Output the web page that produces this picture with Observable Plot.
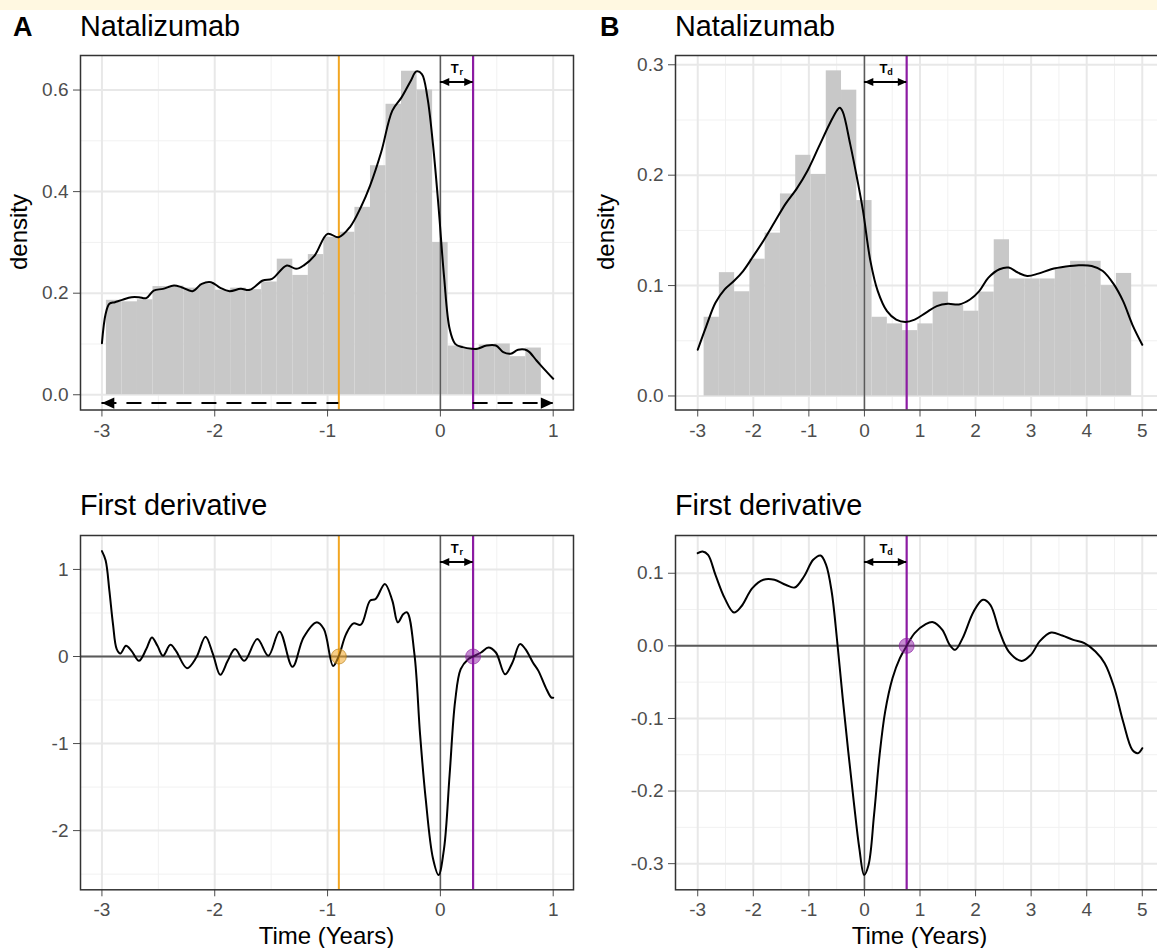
<!DOCTYPE html>
<html><head><meta charset="utf-8">
<script src="https://cdn.jsdelivr.net/npm/d3@7"></script>
<script src="https://cdn.jsdelivr.net/npm/@observablehq/plot@0.6"></script>
<style>
html,body{margin:0;padding:0;background:#fff;overflow:hidden;}
#root{position:relative;width:1157px;height:948px;overflow:hidden;font-family:"Liberation Sans",Arial,Helvetica,sans-serif;background:#fff;}
.pl{position:absolute;}
.pl svg{max-width:none !important;}
.band{position:absolute;left:0;top:0;width:1157px;height:10px;background:#fff8e1;z-index:5;}
</style></head>
<body><div id="root"></div>
<script>
// ---------------- DATA ----------------
// axis ticks
const timeTicksA = [-3, -2, -1, 0, 1];
const timeMinorA = [-2.5, -1.5, -0.5, 0.5];
const timeTicksB = [-3, -2, -1, 0, 1, 2, 3, 4, 5];
const timeMinorB = [-2.5, -1.5, -0.5, 0.5, 1.5, 2.5, 3.5, 4.5];
const densTicksA = [0, 0.2, 0.4, 0.6];
const densMinorA = [0.1, 0.3, 0.5];
const densTicksB = [0, 0.1, 0.2, 0.3];
const densMinorB = [0.05, 0.15, 0.25];
const derivTicksA = [-2, -1, 0, 1];
const derivMinorA = [-2.5, -1.5, -0.5, 0.5];
const derivTicksB = [-0.3, -0.2, -0.1, 0, 0.1];
const derivMinorB = [-0.25, -0.15, -0.05, 0.05, 0.15];

// histogram A (bin edges, densities)
const histEdgesA = [-2.9606, -2.8229, -2.6852, -2.5475, -2.4098, -2.2721, -2.1344, -1.9967, -1.859, -1.7213,
  -1.5836, -1.4459, -1.3082, -1.1705, -1.0328, -0.8951, -0.7574, -0.6197, -0.482, -0.3443,
  -0.2066, -0.0689, 0.0689, 0.2066, 0.3443, 0.482, 0.6197, 0.7574, 0.8951];
const histDensityA = [0.186, 0.183, 0.187, 0.213, 0.214, 0.21, 0.218, 0.206, 0.21, 0.207,
  0.222, 0.267, 0.235, 0.276, 0.31, 0.32, 0.369, 0.451, 0.572, 0.637,
  0.60, 0.30, 0.096, 0.09, 0.098, 0.1, 0.075, 0.092];

// histogram B
const histEdgesB = [-2.8854, -2.6106, -2.3358, -2.061, -1.7862, -1.5114, -1.2366, -0.9618, -0.687, -0.4122,
  -0.1374, 0.1374, 0.4122, 0.687, 0.9618, 1.2366, 1.5114, 1.7862, 2.061, 2.3358,
  2.6106, 2.8854, 3.1602, 3.435, 3.7098, 3.9846, 4.2594, 4.5342, 4.809];
const histDensityB = [0.0713, 0.1117, 0.0944, 0.1239, 0.1475, 0.183, 0.218, 0.2007, 0.2945, 0.277,
  0.177, 0.0713, 0.0653, 0.0592, 0.0653, 0.0941, 0.082, 0.0768, 0.0941, 0.1415,
  0.106, 0.106, 0.106, 0.116, 0.122, 0.122, 0.100, 0.111];

// density curve A
const densTimeA = [-3.000, -2.967, -2.934, -2.885, -2.820, -2.738, -2.672, -2.607, -2.541, -2.459,
  -2.361, -2.295, -2.197, -2.115, -2.033, -1.951, -1.869, -1.770, -1.689, -1.574,
  -1.492, -1.361, -1.279, -1.213, -1.115, -1.000, -0.902, -0.803, -0.705, -0.623,
  -0.525, -0.426, -0.344, -0.262, -0.213, -0.164, -0.115, -0.066, -0.016, 0.033,
  0.082, 0.131, 0.197, 0.279, 0.328, 0.410, 0.492, 0.557, 0.623, 0.689,
  0.770, 0.852, 0.918, 1.000];
const densValueA = [0.1016, 0.1593, 0.179, 0.1823, 0.1869, 0.1921, 0.1921, 0.1902, 0.2052, 0.2085,
  0.2151, 0.2118, 0.2039, 0.2184, 0.2216, 0.2105, 0.2039, 0.2085, 0.2066, 0.2249,
  0.2282, 0.2544, 0.2479, 0.2544, 0.2741, 0.3167, 0.3102, 0.3298, 0.3692, 0.4118,
  0.4774, 0.5594, 0.5856, 0.6184, 0.6367, 0.6315, 0.5856, 0.4938, 0.3692, 0.2315,
  0.1298, 0.1003, 0.0938, 0.0905, 0.0905, 0.0971, 0.0971, 0.0839, 0.0807, 0.0885,
  0.0872, 0.0675, 0.0511, 0.0315];

// first derivative A
const derivTimeA = [-3.000, -2.967, -2.934, -2.902, -2.869, -2.836, -2.787, -2.738, -2.672, -2.607,
  -2.557, -2.508, -2.459, -2.393, -2.344, -2.246, -2.164, -2.082, -2.016, -1.951,
  -1.885, -1.820, -1.738, -1.623, -1.525, -1.426, -1.311, -1.213, -1.098, -1.033,
  -0.951, -0.902, -0.836, -0.770, -0.705, -0.623, -0.574, -0.492, -0.426, -0.377,
  -0.328, -0.295, -0.230, -0.180, -0.131, -0.066, -0.016, 0.033, 0.082, 0.131,
  0.180, 0.246, 0.289, 0.361, 0.426, 0.492, 0.574, 0.639, 0.705, 0.754,
  0.820, 0.869, 0.934, 0.984, 1.000];
const derivValueA = [1.210, 1.103, 0.757, 0.373, 0.085, 0.035, 0.123, 0.065, -0.050, 0.085,
  0.219, 0.123, 0.008, 0.134, 0.065, -0.134, -0.012, 0.227, 0.027, -0.211,
  -0.050, 0.085, -0.050, 0.200, 0.008, 0.288, -0.119, 0.219, 0.392, 0.315,
  -0.108, 0.000, 0.257, 0.380, 0.365, 0.642, 0.661, 0.834, 0.642, 0.392,
  0.488, 0.507, 0.027, -0.895, -1.625, -2.317, -2.509, -2.201, -1.356, -0.511,
  -0.146, -0.031, 0.000, 0.046, 0.104, 0.046, -0.204, -0.069, 0.142, 0.085,
  -0.069, -0.165, -0.357, -0.473, -0.473];

// density curve B
const densTimeB = [-3.000, -2.847, -2.681, -2.515, -2.349, -2.183, -2.017, -1.818, -1.619, -1.420,
  -1.221, -1.022, -0.822, -0.623, -0.490, -0.444, -0.391, -0.258, -0.125, -0.026,
  0.107, 0.240, 0.406, 0.572, 0.738, 0.904, 1.103, 1.302, 1.501, 1.700,
  1.900, 2.066, 2.232, 2.431, 2.597, 2.763, 2.929, 3.128, 3.360, 3.626,
  3.858, 4.090, 4.289, 4.489, 4.655, 4.821, 5.000];
const densValueB = [0.0419, 0.0631, 0.0844, 0.0965, 0.1041, 0.1132, 0.1254, 0.1406, 0.1573, 0.1740,
  0.1876, 0.2043, 0.2256, 0.2468, 0.2590, 0.2610, 0.2575, 0.2286, 0.1952, 0.1679,
  0.1224, 0.0950, 0.0768, 0.0692, 0.0671, 0.0692, 0.0753, 0.0814, 0.0835, 0.0829,
  0.0874, 0.0950, 0.1072, 0.1148, 0.1163, 0.1117, 0.1087, 0.1108, 0.1148, 0.1172,
  0.1184, 0.1178, 0.1132, 0.1011, 0.0859, 0.0647, 0.0464];

// first derivative B
const derivTimeB = [-3.000, -2.914, -2.814, -2.681, -2.515, -2.349, -2.217, -2.017, -1.818, -1.619,
  -1.420, -1.254, -1.088, -0.922, -0.789, -0.690, -0.590, -0.490, -0.391, -0.291,
  -0.192, -0.092, -0.006, 0.074, 0.173, 0.273, 0.373, 0.505, 0.638, 0.760,
  0.904, 1.103, 1.236, 1.402, 1.534, 1.634, 1.767, 1.966, 2.132, 2.265,
  2.431, 2.597, 2.829, 2.995, 3.161, 3.360, 3.559, 3.758, 3.958, 4.157,
  4.323, 4.489, 4.655, 4.821, 4.920, 5.000];
const derivValueB = [0.1277, 0.1300, 0.1254, 0.0978, 0.0657, 0.0459, 0.0542, 0.0795, 0.0910, 0.0910,
  0.0841, 0.0804, 0.0955, 0.1185, 0.1245, 0.1116, 0.0749, 0.0060, -0.0721, -0.1456,
  -0.2145, -0.2788, -0.3156, -0.3018, -0.2329, -0.1502, -0.0905, -0.0446, -0.0170, 0.0000,
  0.0175, 0.0299, 0.0326, 0.0220, 0.0014, -0.0055, 0.0106, 0.0473, 0.0634, 0.0565,
  0.0198, -0.0078, -0.0207, -0.0124, 0.0069, 0.0184, 0.0142, 0.0083, 0.0037, -0.0078,
  -0.0239, -0.0560, -0.1043, -0.1433, -0.1479, -0.1410];

// key time points
const onsetA = -0.9;       // orange line (panel A)
const recoveryA = 0.29;    // purple line, Tr (panel A)
const recoveryB = 0.76;    // purple line, Td (panel B)
const windowA = [-3, 1];   // dashed arrow extents
const dashedArrowY = -0.0163;

// ---------------- STYLE / LAYOUT ----------------
const FONT = '"Liberation Sans", Arial, Helvetica, sans-serif';
const ORANGE = "#f2a623", PURPLE = "#8c1ba3";
const root = document.getElementById("root");

const arrowHead = {
  draw(context, size) {
    const l = Math.sqrt(size);
    context.moveTo(0, 0);
    context.lineTo(-l, -0.45 * l);
    context.lineTo(-l, 0.45 * l);
    context.closePath();
  }
};

const toRows = (xs, ys) => xs.map((t, i) => ({t, v: ys[i]}));
const toBins = (edges, hs) => hs.map((h, i) => ({x0: edges[i], x1: edges[i + 1], h}));

function yFromTop(domain, plotH, px) {
  return domain[1] - px * (domain[1] - domain[0]) / plotH;
}

function panel(o) {
  const plotH = o.height - o.mT - o.mB;
  const svg = Plot.plot({
    width: o.width, height: o.height,
    marginLeft: o.mL, marginRight: o.mR, marginTop: o.mT, marginBottom: o.mB,
    style: {fontFamily: FONT, fontSize: "19px", color: "#4d4d4d", background: "transparent", overflow: "visible", maxWidth: "none"},
    x: {domain: o.xDomain, ticks: o.xTicks, tickSize: 7, tickPadding: 6, tickFormat: d => String(d), label: null},
    y: {domain: o.yDomain, ticks: o.yTicks, tickSize: 7, tickPadding: 5, tickFormat: o.yFmt, label: null},
    marks: [
      Plot.ruleX(o.xMinor, {stroke: "#f1f1f1", strokeWidth: 1}),
      Plot.ruleY(o.yMinor, {stroke: "#f1f1f1", strokeWidth: 1}),
      Plot.ruleX(o.xTicks, {stroke: "#e8e8e8", strokeWidth: 2}),
      Plot.ruleY(o.yTicks, {stroke: "#e8e8e8", strokeWidth: 2}),
      ...o.marks(plotH),
      Plot.frame({stroke: "#333", strokeWidth: 1.5})
    ]
  });
  svg.style.maxWidth = "none";
  svg.setAttribute("width", o.width);
  svg.setAttribute("height", o.height);
  svg.style.width = o.width + "px";
  svg.style.height = o.height + "px";
  const wrap = document.createElement("div");
  wrap.className = "pl";
  wrap.style.left = o.left + "px";
  wrap.style.top = o.top + "px";
  wrap.style.width = o.width + "px";
  wrap.style.height = o.height + "px";
  wrap.appendChild(svg);
  root.appendChild(wrap);
}

function deltaArrow(x0, x1, yDomain, plotH, sub) {
  const yA = yFromTop(yDomain, plotH, 26.5);
  const yT = yFromTop(yDomain, plotH, 13);
  const mid = (x0 + x1) / 2;
  return [
    Plot.ruleY([yA], {x1: x0, x2: x1, stroke: "black", strokeWidth: 2}),
    Plot.dot([{t: x0, v: yA}], {x: "t", y: "v", symbol: arrowHead, r: 5, rotate: 180, fill: "black", stroke: "none"}),
    Plot.dot([{t: x1, v: yA}], {x: "t", y: "v", symbol: arrowHead, r: 5, rotate: 0, fill: "black", stroke: "none"}),
    Plot.text([{t: mid, v: yT}], {x: "t", y: "v", text: () => "T", fontSize: 13, fontWeight: "bold", fill: "black", dx: -2}),
    Plot.text([{t: mid, v: yT}], {x: "t", y: "v", text: () => sub, fontSize: 9, fontWeight: "bold", fill: "black", dx: 4.5, dy: 3.5})
  ];
}

const TOP = {top: 0, height: 440, mT: 55, mB: 30.5};
const BOT = {top: 480, height: 440, mT: 55, mB: 30.7};
const PA = {left: 0, width: 580, mL: 80, mR: 7, xDomain: [-3.19, 1.18], xTicks: timeTicksA, xMinor: timeMinorA};
const PB = {left: 580, width: 590, mL: 95, mR: 6, xDomain: [-3.4, 5.4], xTicks: timeTicksB, xMinor: timeMinorB};

// ---- Panel A, density ----
const yDomA1 = [-0.03, 0.668];
panel({...TOP, ...PA, yDomain: yDomA1, yTicks: densTicksA, yMinor: densMinorA, yFmt: d => d.toFixed(1),
  marks: (plotH) => [
    Plot.rect(toBins(histEdgesA, histDensityA), {x1: "x0", x2: "x1", y1: 0, y2: "h", fill: "#c8c8c8", inset: 0}),
    Plot.ruleX([0], {stroke: "#5a5a5a", strokeWidth: 1.5}),
    Plot.ruleX([onsetA], {stroke: ORANGE, strokeWidth: 2}),
    Plot.ruleX([recoveryA], {stroke: PURPLE, strokeWidth: 2.2}),
    Plot.line(toRows(densTimeA, densValueA), {x: "t", y: "v", stroke: "black", strokeWidth: 2, curve: "catmull-rom"}),
    Plot.ruleY([dashedArrowY], {x1: windowA[0], x2: onsetA, stroke: "black", strokeWidth: 2, strokeDasharray: "15,10"}),
    Plot.ruleY([dashedArrowY], {x1: recoveryA, x2: windowA[1], stroke: "black", strokeWidth: 2, strokeDasharray: "15,10"}),
    Plot.dot([{t: windowA[0], v: dashedArrowY}], {x: "t", y: "v", symbol: arrowHead, r: 7, rotate: 180, fill: "black", stroke: "none"}),
    Plot.dot([{t: windowA[1], v: dashedArrowY}], {x: "t", y: "v", symbol: arrowHead, r: 7, rotate: 0, fill: "black", stroke: "none"}),
    ...deltaArrow(0, recoveryA, yDomA1, plotH, "r")
  ]});

// ---- Panel B, density ----
const yDomB1 = [-0.0127, 0.3084];
panel({...TOP, ...PB, yDomain: yDomB1, yTicks: densTicksB, yMinor: densMinorB, yFmt: d => d.toFixed(1),
  marks: (plotH) => [
    Plot.rect(toBins(histEdgesB, histDensityB), {x1: "x0", x2: "x1", y1: 0, y2: "h", fill: "#c8c8c8", inset: 0}),
    Plot.ruleX([0], {stroke: "#5a5a5a", strokeWidth: 1.5}),
    Plot.ruleX([recoveryB], {stroke: PURPLE, strokeWidth: 2.2}),
    Plot.line(toRows(densTimeB, densValueB), {x: "t", y: "v", stroke: "black", strokeWidth: 2, curve: "catmull-rom"}),
    ...deltaArrow(0, recoveryB, yDomB1, plotH, "d")
  ]});

// ---- Panel A, derivative ----
const yDomA2 = [-2.68, 1.39];
panel({...BOT, ...PA, yDomain: yDomA2, yTicks: derivTicksA, yMinor: derivMinorA, yFmt: d => String(d),
  marks: (plotH) => [
    Plot.ruleY([0], {stroke: "#5a5a5a", strokeWidth: 2}),
    Plot.ruleX([0], {stroke: "#5a5a5a", strokeWidth: 1.5}),
    Plot.ruleX([onsetA], {stroke: ORANGE, strokeWidth: 2}),
    Plot.ruleX([recoveryA], {stroke: PURPLE, strokeWidth: 2.2}),
    Plot.line(toRows(derivTimeA, derivValueA), {x: "t", y: "v", stroke: "black", strokeWidth: 2, curve: "catmull-rom"}),
    Plot.dot([{t: onsetA, v: 0}], {x: "t", y: "v", r: 7.5, fill: ORANGE, fillOpacity: 0.55, stroke: "#b07a10", strokeOpacity: 0.6, strokeWidth: 1}),
    Plot.dot([{t: recoveryA, v: 0}], {x: "t", y: "v", r: 7.5, fill: PURPLE, fillOpacity: 0.5, stroke: PURPLE, strokeOpacity: 0.6, strokeWidth: 1}),
    ...deltaArrow(0, recoveryA, yDomA2, plotH, "r")
  ]});

// ---- Panel B, derivative ----
const yDomB2 = [-0.336, 0.152];
panel({...BOT, ...PB, yDomain: yDomB2, yTicks: derivTicksB, yMinor: derivMinorB, yFmt: d => d.toFixed(1),
  marks: (plotH) => [
    Plot.ruleY([0], {stroke: "#5a5a5a", strokeWidth: 2}),
    Plot.ruleX([0], {stroke: "#5a5a5a", strokeWidth: 1.5}),
    Plot.ruleX([recoveryB], {stroke: PURPLE, strokeWidth: 2.2}),
    Plot.line(toRows(derivTimeB, derivValueB), {x: "t", y: "v", stroke: "black", strokeWidth: 2, curve: "catmull-rom"}),
    Plot.dot([{t: recoveryB, v: 0}], {x: "t", y: "v", r: 7.5, fill: PURPLE, fillOpacity: 0.5, stroke: PURPLE, strokeOpacity: 0.6, strokeWidth: 1}),
    ...deltaArrow(0, recoveryB, yDomB2, plotH, "d")
  ]});

// ---------------- TEXT OVERLAY ----------------
const NS = "http://www.w3.org/2000/svg";
const ov = document.createElementNS(NS, "svg");
ov.setAttribute("width", 1157); ov.setAttribute("height", 948);
ov.style.position = "absolute"; ov.style.left = "0"; ov.style.top = "0"; ov.style.pointerEvents = "none";
function addText(str, x, y, size, opts = {}) {
  const t = document.createElementNS(NS, "text");
  t.textContent = str;
  t.setAttribute("x", x); t.setAttribute("y", y);
  t.setAttribute("font-family", FONT);
  t.setAttribute("font-size", size);
  t.setAttribute("fill", "#000");
  if (opts.weight) t.setAttribute("font-weight", opts.weight);
  if (opts.anchor) t.setAttribute("text-anchor", opts.anchor);
  if (opts.rotate) t.setAttribute("transform", `rotate(${opts.rotate} ${x} ${y})`);
  ov.appendChild(t);
}
addText("A", 13, 36, 27, {weight: "bold"});
addText("Natalizumab", 80, 36, 28.8);
addText("B", 600, 36, 27, {weight: "bold"});
addText("Natalizumab", 675, 36, 28.8);
addText("First derivative", 80, 515, 28.8);
addText("First derivative", 675, 515, 28.8);
addText("density", 27, 232, 24, {anchor: "middle", rotate: -90});
addText("density", 614, 232, 24, {anchor: "middle", rotate: -90});
addText("Time (Years)", 326.5, 944, 24, {anchor: "middle"});
addText("Time (Years)", 919.5, 944, 24, {anchor: "middle"});
root.appendChild(ov);

const band = document.createElement("div");
band.className = "band";
root.appendChild(band);
</script>
</body></html>
